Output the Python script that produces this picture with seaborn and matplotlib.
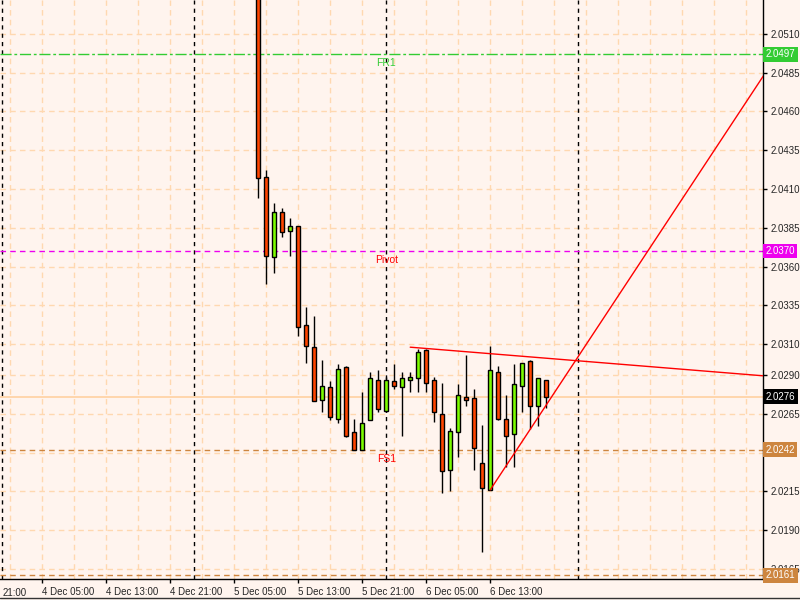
import numpy as np
import pandas as pd
import matplotlib
matplotlib.use("Agg")
import matplotlib.pyplot as plt
import seaborn as sns

# ---------------- data: hourly bars, 5 Dec 08:00 .. 6 Dec 20:00 ----------------
# x position = hours since 4 Dec 00:00
bar_hours = list(range(32, 69))
opens = [2.0560, 2.0418, 2.0366, 2.0395, 2.0383, 2.0386, 2.0322, 2.0308, 2.0274, 2.0282,
         2.0262, 2.0295, 2.0253, 2.0242, 2.0261, 2.0287, 2.0267, 2.0286, 2.0282, 2.0287,
         2.0288, 2.0306, 2.0287, 2.0265, 2.0229, 2.0253, 2.0276, 2.0275, 2.0233, 2.0216,
         2.0292, 2.0262, 2.0252, 2.0283, 2.0299, 2.0270, 2.0287]
highs = [2.0560, 2.0422, 2.0401, 2.0398, 2.0391, 2.0386, 2.0334, 2.0328, 2.0300, 2.0286,
         2.0297, 2.0296, 2.0262, 2.0279, 2.0292, 2.0293, 2.0289, 2.0297, 2.0292, 2.0292,
         2.0307, 2.0307, 2.0289, 2.0285, 2.0256, 2.0284, 2.0303, 2.0281, 2.0258, 2.0309,
         2.0296, 2.0277, 2.0297, 2.0298, 2.0300, 2.0288, 2.0287]
lows = [2.0404, 2.0349, 2.0356, 2.0379, 2.0367, 2.0315, 2.0298, 2.0273, 2.0266, 2.0261,
        2.0259, 2.0250, 2.0242, 2.0242, 2.0261, 2.0266, 2.0266, 2.0281, 2.0251, 2.0279,
        2.0279, 2.0279, 2.0260, 2.0214, 2.0215, 2.0237, 2.0270, 2.0229, 2.0176, 2.0216,
        2.0261, 2.0231, 2.0231, 2.0266, 2.0255, 2.0257, 2.0269]
closes = [2.0417, 2.0367, 2.0395, 2.0382, 2.0386, 2.0321, 2.0309, 2.0273, 2.0283, 2.0263,
          2.0294, 2.0251, 2.0242, 2.0259, 2.0288, 2.0268, 2.0287, 2.0283, 2.0288, 2.0289,
          2.0305, 2.0285, 2.0266, 2.0228, 2.0254, 2.0277, 2.0274, 2.0243, 2.0217, 2.0293,
          2.0262, 2.0251, 2.0284, 2.0298, 2.0270, 2.0288, 2.0276]

# levels
fr1 = 2.0497
pivot = 2.0370
fs1 = 2.0242
low_level = 2.0161
bid = 2.0276

# trend lines: (hour, price) anchors
resist_pts = ([51, 94], [2.0308, 2.0290])
support_pts = ([61, 95], [2.0216, 2.0482])

y_ticks = [2.0510, 2.0485, 2.0460, 2.0435, 2.0410, 2.0385, 2.0360, 2.0335, 2.0310,
           2.0290, 2.0265, 2.0240, 2.0215, 2.0190, 2.0165]
x_tick_hours = [5, 13, 21, 29, 37, 45, 53, 61]
x_tick_labels = ["4 Dec 05:00", "4 Dec 13:00", "4 Dec 21:00", "5 Dec 05:00",
                 "5 Dec 13:00", "5 Dec 21:00", "6 Dec 05:00", "6 Dec 13:00"]
day_breaks = [0, 24, 48, 72]

df = pd.DataFrame({"hour": bar_hours, "open": opens, "high": highs,
                   "low": lows, "close": closes})

# ---------------- style ----------------
bg = "#FFF4EE"
sns.set_style("white", {"axes.facecolor": bg, "figure.facecolor": bg})
plt.rcParams["font.family"] = ["Liberation Sans", "DejaVu Sans"]

fig = plt.figure(figsize=(8, 6), dpi=100)
ax = fig.add_axes([0, 0.035, 0.954, 0.965])
ax.set_xlim(-0.25, 95.1)
ax.set_ylim(2.01585, 2.05319)

# grid
grid_col = "#FFD8B0"
for h in range(1, 96, 4):
    ax.axvline(h, color=grid_col, lw=1, ls=(0, (4, 3)), zorder=0)
for p in y_ticks:
    ax.axhline(p, color=grid_col, lw=1, ls=(0, (4, 3)), zorder=0)
for h in day_breaks:
    ax.axvline(h, color="black", lw=1, ls=(0, (3, 3)), zorder=1)

# level lines
ax.axhline(fr1, color="#33CC33", lw=1, ls=(0, (8, 2, 2, 2)), zorder=1)
ax.axhline(pivot, color="#EE00EE", lw=1, ls=(0, (4, 3)), zorder=1)
ax.axhline(fs1, color="#CD853F", lw=1, ls=(0, (4, 3)), zorder=1)
ax.axhline(low_level, color="#CD853F", lw=1, ls=(0, (4, 3)), zorder=1)
ax.axhline(bid, color="#FFD0A0", lw=1.2, zorder=1)

for price, name, col in [(fr1, "FR1", "#33CC33"), (pivot, "Pivot", "red"), (fs1, "FS1", "red")]:
    ax.annotate(name, (48, price), xytext=(0, -3), textcoords="offset points",
                ha="center", va="top", color=col, fontsize=7.5)

# candles
up = df["close"] >= df["open"]
body_col = np.where(up, "#7CFC00", "#FF4500")
ax.vlines(df["hour"], df["low"], df["high"], color="black", lw=1, zorder=3)
body_h = (df["close"] - df["open"]).abs().clip(lower=0.00006)
ax.bar(df["hour"], body_h, bottom=df[["open", "close"]].min(axis=1), width=0.5,
       color=body_col, edgecolor="black", linewidth=1, zorder=4)

# trend lines (rays to the right)
def ray(pts):
    (x0, x1), (y0, y1) = pts
    slope = (y1 - y0) / (x1 - x0)
    xs = np.array([x0, 100])
    return xs, y0 + slope * (xs - x0)

for pts in (resist_pts, support_pts):
    xs, ys = ray(pts)
    sns.lineplot(x=xs, y=ys, ax=ax, color="red", lw=1, zorder=5)

# axes
ax.yaxis.tick_right()
ax.set_yticks(y_ticks)
# 2.0240 sits under the FS1 price box, so its label is left empty
ax.set_yticklabels(["" if abs(p - 2.0240) < 1e-6 else f"{p:.4f}" for p in y_ticks])
ax.set_xticks(x_tick_hours)
ax.set_xticklabels(x_tick_labels, ha="left")
ax.tick_params(axis="both", length=3, width=1, color="black", labelsize=7, pad=2,
               direction="out", right=True, bottom=True, left=False)
ax.tick_params(axis="x", pad=3)
for s in ["top", "left"]:
    ax.spines[s].set_visible(False)
for s in ["right", "bottom"]:
    ax.spines[s].set_color("black")
    ax.spines[s].set_linewidth(1)
ax.text(0.004, -0.016, "21:00", transform=ax.transAxes, ha="left", va="top", fontsize=7)

# price boxes on the right axis
yx = ax.get_yaxis_transform()
for price, col in [(fr1, "#33CC33"), (pivot, "#EE00EE"), (bid, "black"),
                   (fs1, "#CD853F"), (low_level, "#CD853F")]:
    ax.text(1.003, price, f"{price:.4f}", transform=yx, ha="left", va="center",
            color="white", fontsize=7, clip_on=False, zorder=10,
            bbox=dict(boxstyle="square,pad=0.25", fc=col, ec="none"))

fig.add_artist(plt.Line2D([0, 1], [0.003, 0.003], color="#333333", lw=1))
fig.savefig("out.png", dpi=100, facecolor=bg)
